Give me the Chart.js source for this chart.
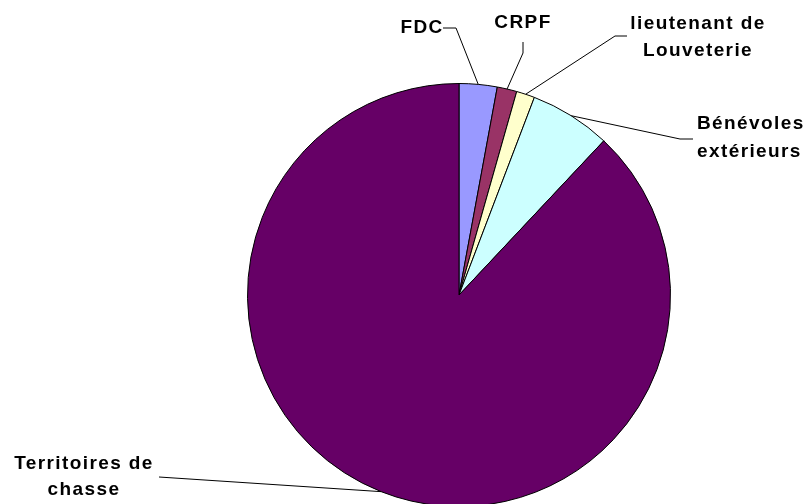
<!DOCTYPE html>
<html lang="fr">
<head>
    <meta charset="UTF-8">
    <title>Répartition</title>
    <script src="https://cdn.jsdelivr.net/npm/chart.js"></script>
    <style>
        html, body { margin: 0; padding: 0; background: #fff; overflow: hidden; }
        canvas { display: block; }
    </style>
</head>
<body>
    <canvas id="pieChart" width="807" height="520"></canvas>

    <script>
        // Data (shares in %)
        const categories = ['FDC', 'CRPF', 'lieutenant de Louveterie', 'Bénévoles extérieurs', 'Territoires de chasse'];
        const shares = [2.9, 1.5, 1.4, 6.2, 88.0];
        const labelLines = [['FDC'], ['CRPF'], ['lieutenant de', 'Louveterie'], ['Bénévoles', 'extérieurs'], ['Territoires de', 'chasse']];
        const sliceColors = ['#9999FF', '#993366', '#FFFFCC', '#CCFFFF', '#660066'];

        // where each callout goes: elbow of the leader line, its end, and the text
        const callouts = [
            { elbow: [456, 28], end: [443, 28], x: 422, y: 33, align: 'center', lh: 27 },
            { elbow: [523, 53], end: [523, 42], x: 523, y: 28, align: 'center', lh: 27 },
            { elbow: [615, 36], end: [627, 36], x: 698, y: 29, align: 'center', lh: 27 },
            { elbow: [680, 139], end: [693, 139], x: 697, y: 129, align: 'left', lh: 28 },
            { elbow: null, end: [159, 477], x: 84, y: 469, align: 'center', lh: 26 }
        ];

        const calloutPlugin = {
            id: 'callouts',
            afterDraw(chart) {
                const ctx = chart.ctx;
                const arcs = chart.getDatasetMeta(0).data;
                ctx.save();
                arcs.forEach((arc, i) => {
                    const p = arc.getProps(['x', 'y', 'startAngle', 'endAngle', 'outerRadius'], true);
                    const mid = (p.startAngle + p.endAngle) / 2;
                    const ex = p.x + Math.cos(mid) * p.outerRadius;
                    const ey = p.y + Math.sin(mid) * p.outerRadius;
                    const c = callouts[i];

                    ctx.strokeStyle = '#000';
                    ctx.lineWidth = 1;
                    ctx.beginPath();
                    ctx.moveTo(ex, ey);
                    if (c.elbow) ctx.lineTo(c.elbow[0], c.elbow[1]);
                    ctx.lineTo(c.end[0], c.end[1]);
                    ctx.stroke();

                    ctx.fillStyle = '#000';
                    ctx.font = 'bold 19px "Liberation Sans", Arial, sans-serif';
                    ctx.letterSpacing = '1.4px';
                    ctx.textAlign = c.align;
                    ctx.textBaseline = 'alphabetic';
                    labelLines[i].forEach((line, k) => {
                        ctx.fillText(line, c.x, c.y + k * c.lh);
                    });
                });
                ctx.restore();
            }
        };

        new Chart(document.getElementById('pieChart').getContext('2d'), {
            type: 'pie',
            data: {
                labels: categories,
                datasets: [{
                    data: shares,
                    backgroundColor: sliceColors,
                    borderColor: '#000',
                    borderWidth: 1
                }]
            },
            options: {
                responsive: false,
                animation: false,
                layout: { padding: { top: 83, bottom: 13, left: 247, right: 136 } },
                plugins: {
                    legend: { display: false },
                    tooltip: { enabled: false }
                }
            },
            plugins: [calloutPlugin]
        });
    </script>
</body>
</html>
